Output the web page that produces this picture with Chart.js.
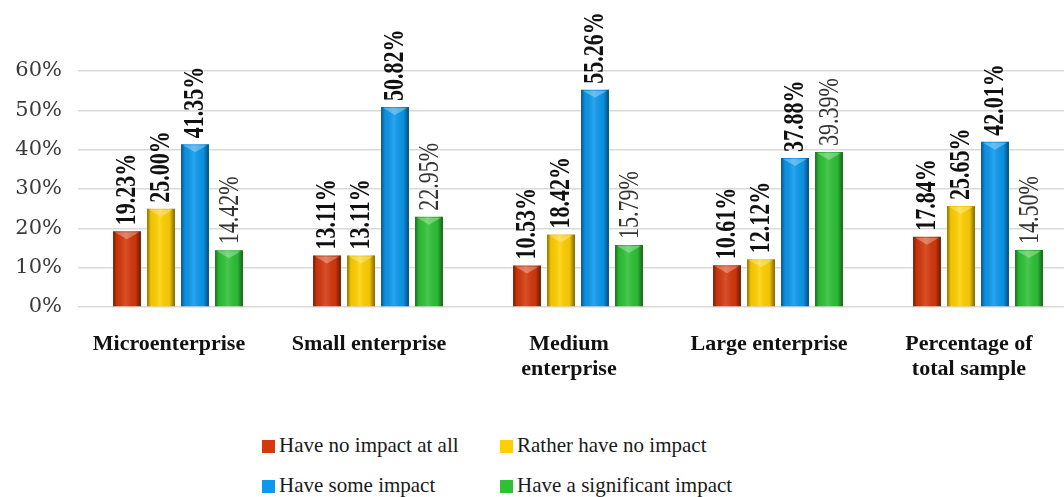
<!DOCTYPE html>
<html>
<head>
<meta charset="utf-8">
<script src="https://cdn.jsdelivr.net/npm/chart.js@4/dist/chart.umd.min.js"></script>
<style>
  html, body { margin: 0; padding: 0; background: #fff; }
  #wrap { position: relative; width: 1064px; height: 497px; overflow: hidden; }
  #chart { position: absolute; left: 0; top: 0; }
  .key { position: absolute; font-family: "Liberation Serif", serif; font-size: 21px; color: #1a1a1a; white-space: nowrap; line-height: 20px; }
  .key i { display: inline-block; width: 13px; height: 13px; margin-right: 4px; vertical-align: -1px; }
</style>
</head>
<body>
<div id="wrap">
  <canvas id="chart" width="1080" height="400"></canvas>
  <div id="legend"></div>
</div>
<script>
// Firm size groups and answer shares (%)
const categories = ['Microenterprise', 'Small enterprise', ['Medium', 'enterprise'], 'Large enterprise', ['Percentage of', 'total sample']];
const seriesNames = ['Have no impact at all', 'Rather have no impact', 'Have some impact', 'Have a significant impact'];
const noImpact = [19.23, 13.11, 10.53, 10.61, 17.84];
const ratherNoImpact = [25.00, 13.11, 18.42, 12.12, 25.65];
const someImpact = [41.35, 50.82, 55.26, 37.88, 42.01];
const significantImpact = [14.42, 22.95, 15.79, 39.39, 14.50];
const yTicks = [0, 10, 20, 30, 40, 50, 60];

const colors = ['#D4380C', '#FFCF00', '#0C98EC', '#2EC136'];
const series = [noImpact, ratherNoImpact, someImpact, significantImpact];

// 3D-ish bevel shading laid over every bar
const bevel = {
  id: 'bevel',
  afterDatasetsDraw(chart) {
    const ctx = chart.ctx;
    chart.data.datasets.forEach((ds, i) => {
      chart.getDatasetMeta(i).data.forEach(bar => {
        const { x, y, base, width } = bar.getProps(['x', 'y', 'base', 'width'], true);
        const l = x - width / 2, r = x + width / 2;
        const g = ctx.createLinearGradient(l, 0, r, 0);
        g.addColorStop(0, 'rgba(0,0,0,0.45)');
        g.addColorStop(0.14, 'rgba(0,0,0,0.05)');
        g.addColorStop(0.45, 'rgba(255,255,255,0.12)');
        g.addColorStop(0.8, 'rgba(0,0,0,0.05)');
        g.addColorStop(1, 'rgba(0,0,0,0.5)');
        ctx.save();
        ctx.fillStyle = g;
        ctx.fillRect(l, y, width, base - y);
        // light chevron at the top
        ctx.fillStyle = 'rgba(255,255,255,0.3)';
        ctx.beginPath();
        ctx.moveTo(l + 2, y + 1);
        ctx.lineTo(r - 2, y + 1);
        ctx.lineTo(x, y + 8);
        ctx.closePath();
        ctx.fill();
        ctx.restore();
      });
    });
  }
};

// rotated value labels above each bar
const valueLabels = {
  id: 'valueLabels',
  afterDraw(chart) {
    const ctx = chart.ctx;
    chart.data.datasets.forEach((ds, i) => {
      const bold = i < 3;
      chart.getDatasetMeta(i).data.forEach((bar, j) => {
        ctx.save();
        ctx.translate(bar.x + 1, bar.y - 6);
        ctx.scale(1.3, 1);
        ctx.rotate(-Math.PI / 2);
        ctx.font = (bold ? 'bold ' : '') + '22px "Liberation Serif"';
        ctx.fillStyle = bold ? '#111' : '#333';
        ctx.textAlign = 'left';
        ctx.textBaseline = 'middle';
        ctx.fillText(ds.data[j].toFixed(2) + '%', 0, 0);
        ctx.restore();
      });
    });
  }
};

new Chart(document.getElementById('chart'), {
  type: 'bar',
  data: {
    labels: categories,
    datasets: seriesNames.map((name, i) => ({
      label: name,
      data: series[i],
      backgroundColor: colors[i],
      borderWidth: 0,
      categoryPercentage: 0.68,
      barPercentage: 0.82
    }))
  },
  options: {
    responsive: false,
    animation: false,
    layout: { padding: { top: 71, right: 2, left: 0, bottom: 0 } },
    plugins: {
      legend: { display: false },
      tooltip: { enabled: false }
    },
    scales: {
      x: {
        grid: { display: false },
        border: { display: false },
        ticks: {
          padding: 17,
          labelOffset: -9,
          color: '#111',
          maxRotation: 0,
          autoSkip: false,
          font: { family: 'Liberation Serif', size: 22, weight: 'bold', lineHeight: 1.14 }
        },
        afterFit(scale) { scale.height = 93; }
      },
      y: {
        min: 0,
        max: 60,
        afterBuildTicks(scale) { scale.ticks = yTicks.map(v => ({ value: v })); },
        grid: { color: '#d9d9d9', lineWidth: 1.5, drawTicks: false },
        border: { display: false },
        ticks: {
          padding: 16,
          color: '#3a3a3a',
          font: { family: 'DejaVu Serif', size: 21 },
          callback: v => v + '%'
        },
        afterFit(scale) { scale.width = 78; }
      }
    }
  },
  plugins: [bevel, valueLabels]
});

// legend laid out in two rows of two
const legendPos = [[262, 435], [500, 435], [262, 475], [500, 475]];
const legend = document.getElementById('legend');
seriesNames.forEach((name, i) => {
  const d = document.createElement('div');
  d.className = 'key';
  d.style.left = legendPos[i][0] + 'px';
  d.style.top = legendPos[i][1] + 'px';
  d.innerHTML = '<i style="background:' + colors[i] + '"></i>' + name;
  legend.appendChild(d);
});
</script>
</body>
</html>
